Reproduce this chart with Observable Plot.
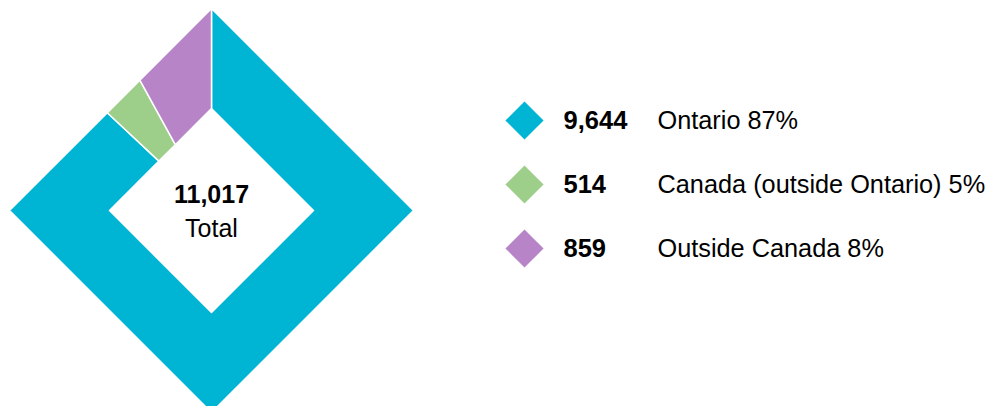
<!DOCTYPE html>
<html>
<head>
<meta charset="utf-8">
<script src="https://cdn.jsdelivr.net/npm/d3@7"></script>
<script src="https://cdn.jsdelivr.net/npm/@observablehq/plot@0.6"></script>
<style>
  html, body { margin: 0; padding: 0; background: #fff; overflow: hidden; }
  #wrap { position: relative; width: 998px; height: 406px; font-family: "Liberation Sans", Arial, sans-serif; }
  #wrap svg { position: absolute; top: 0; }
</style>
</head>
<body>
<div id="wrap"></div>
<script>
// ---- data ----
const categories = ["Ontario", "Canada (outside Ontario)", "Outside Canada"];
const values = [9644, 514, 859];
const percents = [87, 5, 8];
const colors = ["#00b5d3", "#9dcf8a", "#b884c8"];
const totalLabel = "Total";

// ---- derived ----
const rows = categories.map((c, i) => ({category: c, value: values[i], pct: percents[i]}));
const total = d3.sum(values);
const fmt = d3.format(",");

// diamond ring geometry (data units: outer half-diagonal = 1); slices sized by the shown percentages
const outerR = 1, innerR = 0.505;
const pie = d3.pie().sort(null).value(d => d.pct);
const arcs = pie(rows);
function pt(a, R) {
  const s = Math.sin(a), c = Math.cos(a);
  const k = R / (Math.abs(s) + Math.abs(c));
  return [k * s, -k * c];
}
const corners = [0, Math.PI / 2, Math.PI, 3 * Math.PI / 2, 2 * Math.PI];
const polys = [];
for (const a of arcs) {
  const angs = [a.startAngle, ...corners.filter(t => t > a.startAngle + 1e-9 && t < a.endAngle - 1e-9), a.endAngle];
  const outer = angs.map(t => pt(t, outerR));
  const inner = angs.slice().reverse().map(t => pt(t, innerR));
  for (const [x, y] of [...outer, ...inner]) polys.push({category: a.data.category, x, y});
}

const color = {domain: categories, range: colors};
const font = "'Liberation Sans', Arial, sans-serif";

const donut = Plot.plot({
  width: 998, height: 406,
  marginTop: 0, marginRight: 0, marginBottom: 0, marginLeft: 0,
  style: {fontFamily: font, background: "transparent", overflow: "visible"},
  x: {domain: [-1, 1], range: [9, 413], axis: null},
  y: {domain: [-1, 1], range: [8, 412], axis: null},
  color,
  marks: [
    Plot.line(polys, {x: "x", y: "y", z: "category", fill: "category", stroke: "white", strokeWidth: 1.5, curve: "linear-closed"}),
    Plot.text([fmt(total)], {x: () => 0, y: () => 0, text: d => d, dy: -16, fontSize: 25, fontWeight: "bold", fill: "#000"}),
    Plot.text([totalLabel], {x: () => 0, y: () => 0, text: d => d, dy: 18, fontSize: 25, fill: "#000"})
  ]
});

const legend = Plot.plot({
  width: 508, height: 406,
  marginTop: 0, marginRight: 0, marginBottom: 0, marginLeft: 0,
  style: {fontFamily: font, background: "transparent", overflow: "visible"},
  y: {type: "band", domain: categories, range: [83.5, 284.5], axis: null},
  color,
  marks: [
    Plot.dot(rows, {y: "category", fill: "category", symbol: "square", rotate: 45, r: 15.2, frameAnchor: "left", dx: 34}),
    Plot.text(rows, {y: "category", text: d => fmt(d.value), frameAnchor: "left", textAnchor: "start", dx: 73, fontSize: 25.5, fontWeight: "bold", fill: "#000"}),
    Plot.text(rows, {y: "category", text: d => `${d.category} ${d.pct}%`, frameAnchor: "left", textAnchor: "start", dx: 167, fontSize: 25.3, fill: "#000"})
  ]
});
legend.style.left = "490px";

const wrap = document.getElementById("wrap");
wrap.appendChild(donut);
wrap.appendChild(legend);
</script>
</body>
</html>
